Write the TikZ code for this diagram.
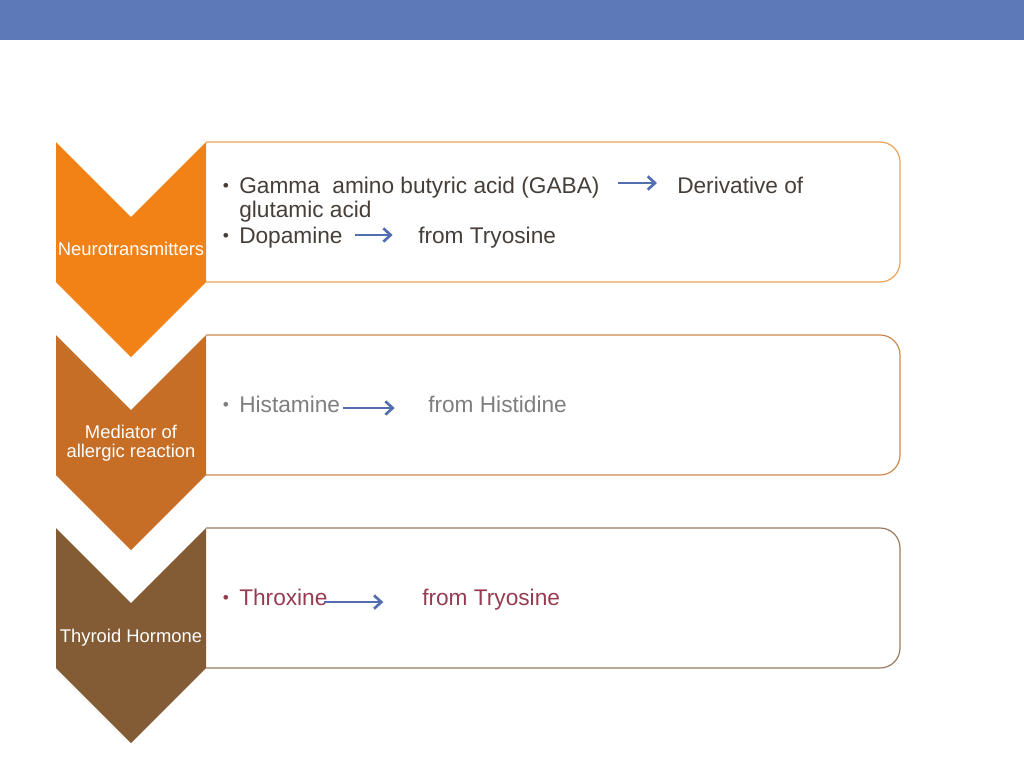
\documentclass[tikz,border=0pt]{standalone}
\usepackage{fontspec}
\setmainfont{Liberation Sans}
\usetikzlibrary{arrows.meta}
\definecolor{barblue}{RGB}{93,121,183}
\definecolor{chevA}{RGB}{242,129,22}
\definecolor{chevB}{RGB}{198,109,38}
\definecolor{chevC}{RGB}{131,91,52}
\definecolor{edgeA}{RGB}{236,163,86}
\definecolor{edgeB}{RGB}{204,138,78}
\definecolor{edgeC}{RGB}{150,122,94}
\definecolor{textA}{RGB}{70,62,56}
\definecolor{textB}{RGB}{126,126,126}
\definecolor{textC}{RGB}{150,60,80}
\definecolor{arrowblue}{RGB}{82,110,176}
\tikzset{
  chevlabel/.style={text=white,font=\fontsize{13.8}{14.3}\selectfont,align=center,inner sep=0pt},
  item/.style={anchor=base west,inner sep=0pt,font=\fontsize{17}{18}\selectfont},
  bul/.style={anchor=base,inner sep=0pt,font=\fontsize{13}{14}\selectfont},
  flow/.style={draw=arrowblue,line width=2pt,-{Straight Barb[length=5.5pt,width=10pt]}},
  panel/.style={line width=0.9pt,rounded corners=15pt}
}
\begin{document}
\begin{tikzpicture}[x=0.75pt,y=-0.75pt]
  \useasboundingbox (0,0) rectangle (1024,768);
  \fill[barblue] (0,0) rectangle (1024,40);
  % panels
  \draw[panel,edgeA] (206,142) -- (900,142) -- (900,282) -- (206,282);
  \draw[panel,edgeB] (206,335) -- (900,335) -- (900,475) -- (206,475);
  \draw[panel,edgeC] (206,528) -- (900,528) -- (900,668) -- (206,668);
  % chevrons
  \fill[chevA] (56,142) -- (131,217) -- (206,142) -- (206,282) -- (131,357) -- (56,282) -- cycle;
  \fill[chevB] (56,335) -- (131,410) -- (206,335) -- (206,475) -- (131,550) -- (56,475) -- cycle;
  \fill[chevC] (56,528) -- (131,603) -- (206,528) -- (206,668) -- (131,743) -- (56,668) -- cycle;
  \node[chevlabel,anchor=base] (neuro) at (131,255) {Neurotransmitters};
  \node[chevlabel] (medi) at (131,443) {Mediator of\\allergic reaction};
  \node[chevlabel,anchor=base] (thyro) at (131,642) {Thyroid Hormone};
  % first panel
  \begin{scope}[textA]
    \node[bul] (b1) at (226,191) {\textbullet};
    \node[item] (gaba) at (239,193) {Gamma\ \ amino butyric acid (GABA)};
    \node[item] (glut) at (239,217) {glutamic acid};
    \node[item] (deriv) at (677,193) {Derivative of};
    \node[bul] (b2) at (226,241) {\textbullet};
    \node[item] (dopa) at (239,243) {Dopamine};
    \node[item] (tyr1) at (418,243) {from Tryosine};
  \end{scope}
  % second panel
  \begin{scope}[textB]
    \node[bul] (b3) at (226,410) {\textbullet};
    \node[item] (hist) at (239,412) {Histamine};
    \node[item] (hisd) at (428,412) {from Histidine};
  \end{scope}
  % third panel
  \begin{scope}[textC]
    \node[bul] (b4) at (226,603) {\textbullet};
    \node[item] (throx) at (239,605) {Throxine};
    \node[item] (tyr2) at (422,605) {from Tryosine};
  \end{scope}
  % arrows
  \draw[flow] ([xshift=14pt,yshift=7.5pt]gaba.base east) -- ([xshift=-15pt,yshift=7.5pt]deriv.base west);
  \draw[flow] ([xshift=9pt,yshift=6pt]dopa.base east) -- ([xshift=-19pt,yshift=6pt]tyr1.base west);
  \draw[flow] ([xshift=2pt,yshift=3pt]hist.base east) -- ([xshift=-25pt,yshift=3pt]hisd.base west);
  \draw[flow] ([xshift=-3pt,yshift=2.2pt]throx.base east) -- ([xshift=-29pt,yshift=2.2pt]tyr2.base west);
\end{tikzpicture}
\end{document}
